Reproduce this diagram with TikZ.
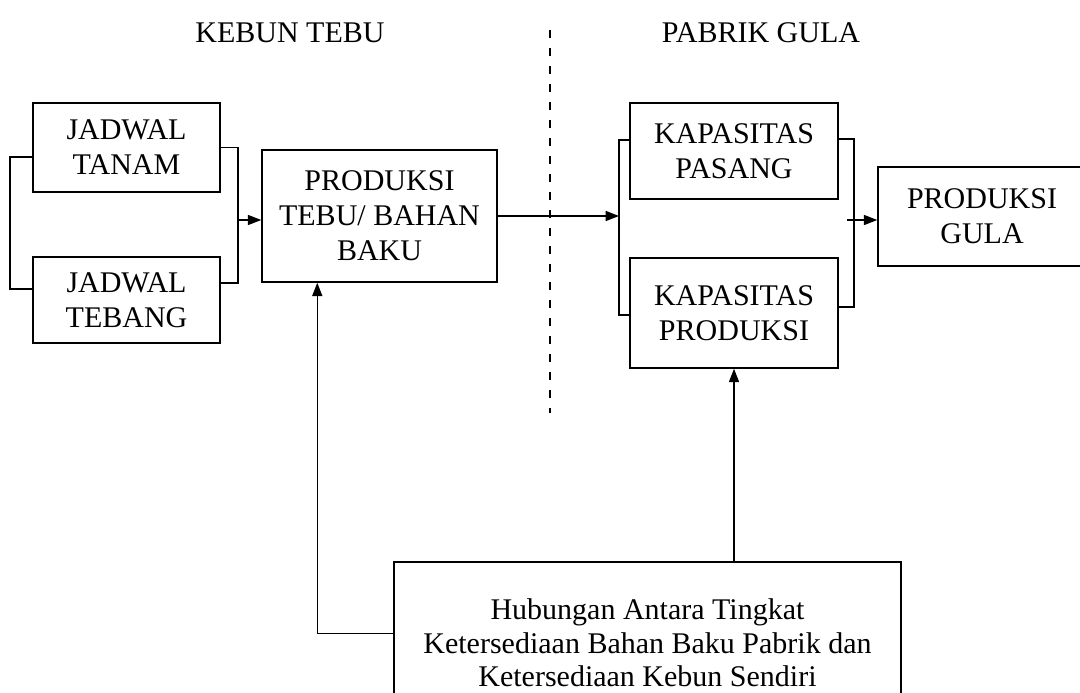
\documentclass[tikz,border=0pt]{standalone}
\usepackage{fontspec}
\setmainfont{Liberation Serif}
\usetikzlibrary{arrows.meta,calc}
\tikzstyle{box}=[draw,line width=1.1pt,align=center,inner sep=0pt,font=\fontsize{22.5}{26.3}\selectfont]
\tikzstyle{link}=[draw,line width=1.1pt]
\tikzstyle{edge}=[draw,line width=1.1pt,-{Triangle[length=10pt,width=7.5pt]}]
\tikzstyle{title}=[font=\fontsize{22.5}{26}\selectfont]
\tikzstyle{divider}=[draw,line width=1.6pt,dash pattern=on 6pt off 7.5pt]
\def\px{0.75pt}

\begin{document}
\begin{tikzpicture}[x=0.75pt,y=-0.75pt]
    \useasboundingbox (0,0) rectangle (1080,692);
    \clip (0,0) rectangle (1080,692);

    \node[title] (kebun) at (290,33) {KEBUN TEBU};
    \node[title] (pabrik) at (761,33) {PABRIK GULA};
    \draw[divider] (550,30) -- (550,413);

    % boxes on both sides
    \foreach \pos/\name/\w/\h/\txt in {{(126.5,147.5)/tanam/187/89/{JADWAL\\TANAM}},
                                    {(126.5,300)/tebang/187/86/{JADWAL\\TEBANG}},
                                    {(379.5,216)/tebu/235/132/{PRODUKSI\\TEBU/ BAHAN\\BAKU}},
                                    {(734,151)/pasang/208/96/{KAPASITAS\\PASANG}},
                                    {(734,313)/kapprod/208/110/{KAPASITAS\\PRODUKSI}},
                                    {(982,216.5)/gula/208/99/{PRODUKSI\\GULA}}}
        \node[box,minimum width=\w*\px,minimum height=\h*\px] (\name) at \pos {\txt};

    \node[box,minimum width=507*\px,minimum height=162*\px,
          font=\fontsize{22.5}{25}\selectfont] (hub) at (647.5,643)
        {Hubungan Antara Tingkat\\Ketersediaan Bahan Baku Pabrik dan\\Ketersediaan Kebun Sendiri};

    % brackets joining the pairs
    \coordinate (lb) at (10,220);
    \coordinate (rb) at (238,220);
    \coordinate (kl) at (619,216);
    \coordinate (kr) at (854,220);
    \path[link] ($(tanam.west)+(0,9.5)$) -| (lb) |- ($(tebang.west)+(0,-11)$);
    \path[link] (tanam.east) -| (rb) |- ($(tebang.east)+(0,-17)$);
    \path[link] ($(pasang.west)+(0,-11)$) -| (kl) |- ($(kapprod.west)+(0,2)$);
    \path[link] ($(pasang.east)+(0,-12)$) -| (kr) |- ($(kapprod.east)+(0,-6)$);

    % arrows
    \path[edge] (rb) -- (rb -| tebu.west);
    \path[edge] (tebu.east) -- (kl);
    \path[edge] ($(kr)+(-7,0)$) -- (kr -| gula.west);
    \path[edge] ($(hub.north west)+(0,72)$) -| ($(tebu.south west)+(56,0)$);
    \path[edge] (hub.north -| kapprod.south) -- (kapprod.south);
\end{tikzpicture}
\end{document}
